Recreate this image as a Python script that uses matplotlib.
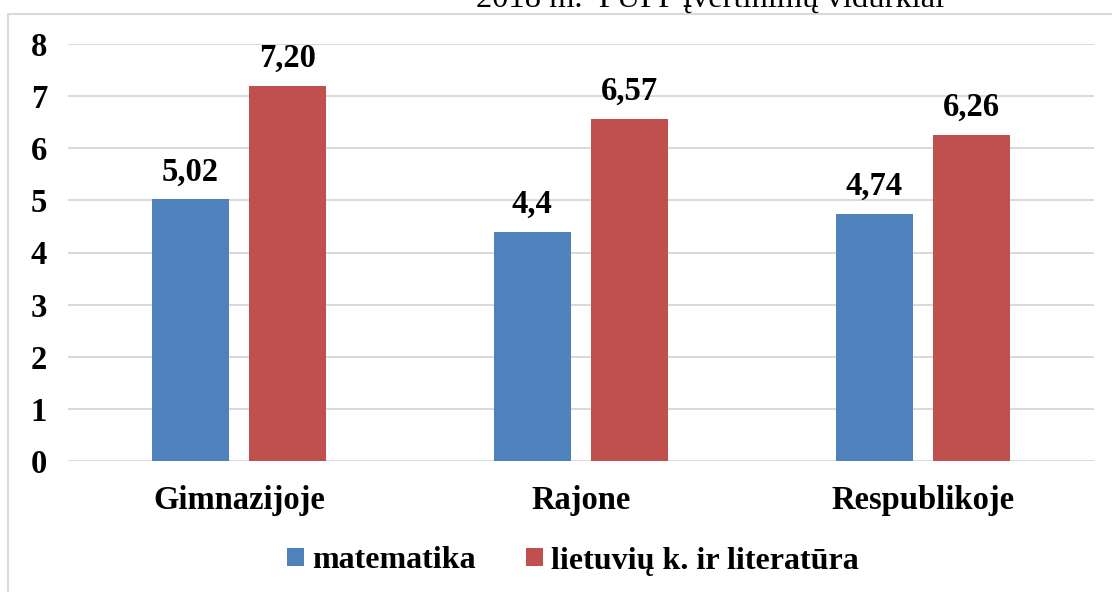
import numpy as np
import matplotlib
matplotlib.use('Agg')
import matplotlib.pyplot as plt
from matplotlib.patches import Rectangle

categories = ['Gimnazijoje', 'Rajone', 'Respublikoje']
series_names = ['matematika', 'lietuvių k. ir literatūra']
matematika = [5.02, 4.4, 4.74]
lietuviu = [7.20, 6.57, 6.26]
matematika_labels = ['5,02', '4,4', '4,74']
lietuviu_labels = ['7,20', '6,57', '6,26']
y_ticks = [0, 1, 2, 3, 4, 5, 6, 7, 8]
title = '2018 m.  PUPP įvertinimų vidurkiai'

blue = '#4F81BD'
red = '#C0504D'
grid_col = '#D9D9D9'

plt.rcParams['font.family'] = ['Liberation Serif', 'DejaVu Serif']

fig = plt.figure(figsize=(11.12, 5.92), dpi=100)
ax = fig.add_axes([68/1112, 1-461/592, (1094-68)/1112, (461-44)/592])

# outer chart frame (cut at right/bottom like the source)
fig.patches.append(Rectangle((8/1112, -0.1), 1.2, 1-14/592+0.1, transform=fig.transFigure,
                             fill=False, edgecolor=grid_col, lw=1.5))

x = np.arange(len(categories))
width = 0.226
off = 0.142
b1 = ax.bar(x - off, matematika, width, color=blue, label=series_names[0], zorder=3)
b2 = ax.bar(x + off, lietuviu, width, color=red, label=series_names[1], zorder=3)

for bars, labs in ((b1, matematika_labels), (b2, lietuviu_labels)):
    for rect, lab in zip(bars, labs):
        ax.annotate(lab, (rect.get_x() + rect.get_width()/2, rect.get_height()),
                    xytext=(0, 13.5), textcoords='offset points', ha='center', va='baseline',
                    fontsize=23.5, fontweight='bold')

ax.set_xlim(-0.5, 2.5)
ax.set_ylim(0, 8)
ax.set_yticks(y_ticks)
ax.set_yticklabels([str(t) for t in y_ticks], fontsize=23.5, fontweight='bold')
ax.set_xticks(x)
ax.set_xticklabels(categories, fontsize=23.5, fontweight='bold')
ax.tick_params(axis='y', length=0, pad=15)
ax.tick_params(axis='x', length=0, pad=17.5)
ax.grid(axis='y', color=grid_col, lw=1.4, zorder=0)
for s in ax.spines.values():
    s.set_visible(False)

leg = fig.legend(handles=[b1, b2], labels=series_names, loc='center',
                 bbox_to_anchor=(573/1112, 1-561/592), ncol=2, frameon=False,
                 prop={'family': 'Liberation Serif', 'weight': 'bold', 'size': 23},
                 handlelength=0.52, handleheight=0.52, handletextpad=0.25, columnspacing=1.6)

fig.text(710/1112, 1-7/592, title, ha='center', va='baseline', fontsize=23.4)

fig.savefig('out.png', dpi=100)
